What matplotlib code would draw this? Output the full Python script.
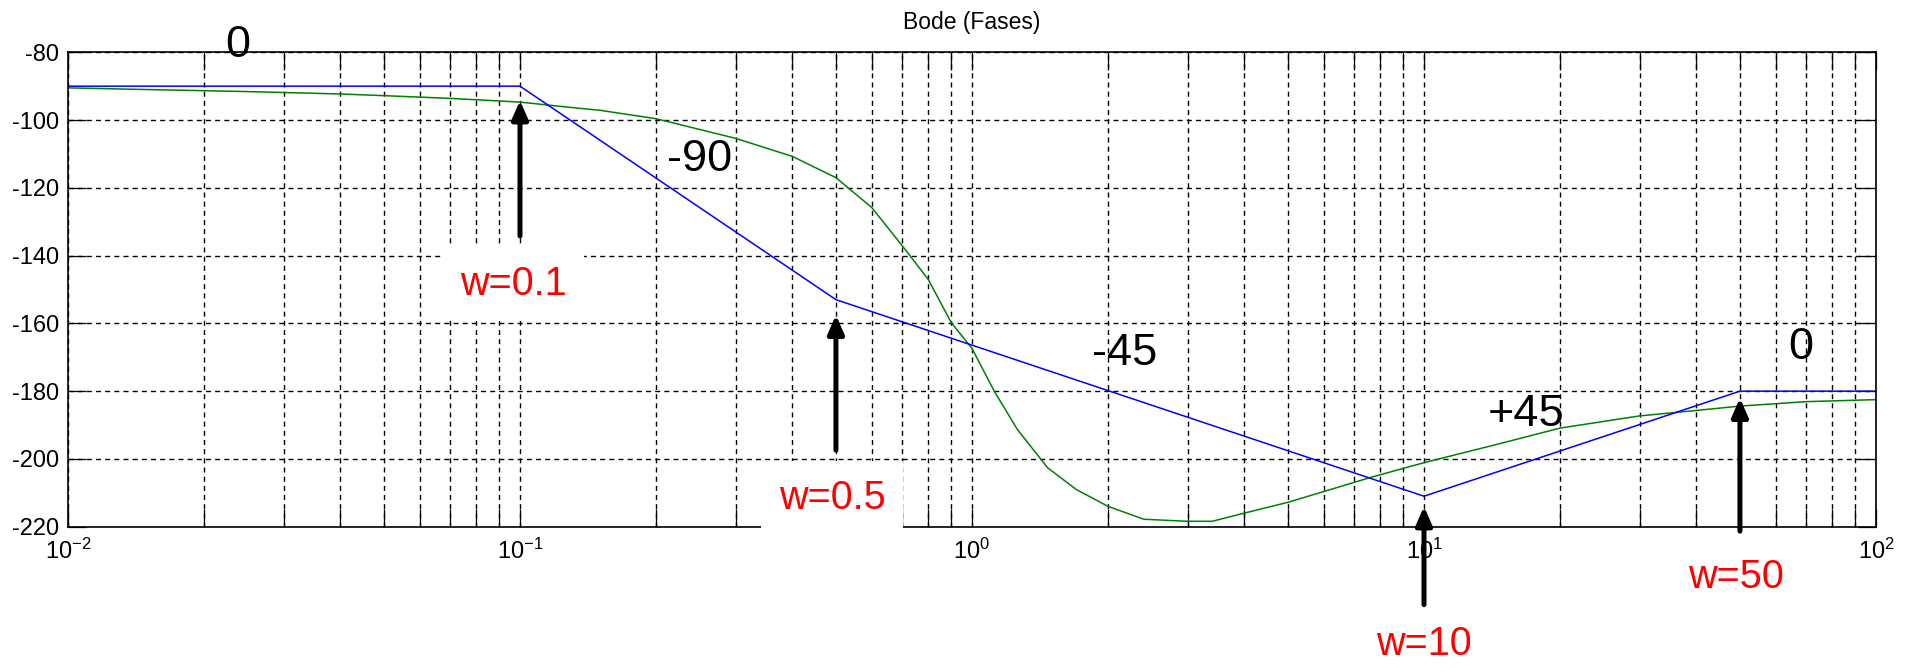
import matplotlib
matplotlib.use("Agg")
import matplotlib.pyplot as plt
from matplotlib.ticker import LogLocator, LogFormatterMathtext, NullFormatter

plt.rcParams['font.family'] = ['Liberation Sans', 'DejaVu Sans']
plt.rcParams['axes.unicode_minus'] = False

# asymptotic (straight-line) phase approximation
asym_w = [0.01, 0.1, 0.5, 10, 50, 100]
asym_phase = [-90, -90, -153, -211, -180, -180]

# real phase curve
real_w = [0.01, 0.015, 0.025, 0.04, 0.05, 0.07, 0.1, 0.13, 0.15, 0.2, 0.3, 0.4,
          0.5, 0.6, 0.7, 0.8, 0.9, 1.0, 1.12, 1.26, 1.47, 1.7, 2.0, 2.4, 3.0,
          3.4, 4.0, 5.0, 7.6, 10, 14.4, 20, 30, 40, 50, 70, 100]
real_phase = [-90.5, -91.0, -91.6, -92.3, -92.8, -93.6, -94.7, -96.3, -97.1, -99.6,
              -105.4, -110.7, -117.0, -125.8, -137.0, -147.0, -159.8, -167.4,
              -180.0, -191.3, -202.6, -209.0, -214.0, -217.8, -218.4, -218.4,
              -216.0, -212.8, -205.5, -201.1, -195.8, -190.9, -187.3, -185.7,
              -184.4, -183.1, -182.5]

# slope labels (deg/decade) along the asymptotes
slope_text = ['0', '-90', '-45', '+45', '0']
slope_w = [0.0238, 0.25, 2.18, 16.8, 68]
slope_y = [-78, -111.5, -168.8, -186.8, -167]

# break frequencies marked with arrows
break_w = [0.1, 0.5, 10, 50]
arrow_tail = [-134.2, -197.4, -243, -221.3]
arrow_tip = [-94.2, -157.5, -214, -182]
label_w = [0.0965, 0.49, 10, 49]
label_y = [-148.3, -211.5, -254.5, -234.8]

fig = plt.figure(figsize=(19.1, 6.72), dpi=100)
ax = fig.add_axes([0.0356, 0.2162, 0.9466, 0.7060])

ax.plot(real_w, real_phase, color=(0, 0.5, 0), lw=1.1, zorder=2)
ax.plot(asym_w, asym_phase, color=(0, 0, 1), lw=1.1, zorder=2.1)

ax.set_xscale('log')
ax.set_xlim(0.01, 100)
ax.set_ylim(-220, -80)
ax.set_yticks(range(-220, -79, 20))
ax.xaxis.set_major_locator(LogLocator(base=10))
ax.xaxis.set_minor_locator(LogLocator(base=10, subs=range(2, 10)))
ax.xaxis.set_major_formatter(LogFormatterMathtext())
ax.xaxis.set_minor_formatter(NullFormatter())

grid_style = dict(color='black', lw=1.0, linestyle=(0, (3.6, 3.0)))
ax.grid(True, which='both', axis='x', **grid_style)
ax.grid(True, which='major', axis='y', **grid_style)
ax.set_axisbelow(True)

ax.tick_params(which='both', direction='in', top=True, right=True,
               length=13, width=0.9, color='black')
ax.tick_params(axis='y', labelsize=17, pad=6.5)
ax.tick_params(axis='x', labelsize=17, pad=8.5)
for sp in ax.spines.values():
    sp.set_linewidth(1.2)

ax.set_title('Bode (Fases)', fontsize=16.5, pad=16.8)

for txt, x, y in zip(slope_text, slope_w, slope_y):
    ax.text(x, y, txt, fontsize=32.5, ha='center', va='center',
            color='black', zorder=4, clip_on=False)

for w, lx, ly in zip(break_w, label_w, label_y):
    ax.text(lx, ly, f'w={w:g}', fontsize=28.5, color='red', ha='center',
            va='center', zorder=4, clip_on=False,
            bbox=dict(boxstyle='square,pad=0.45', facecolor='white',
                      edgecolor='none'))

for w, y0, y1 in zip(break_w, arrow_tail, arrow_tip):
    ax.annotate('', xy=(w, y1), xytext=(w, y0), annotation_clip=False,
                arrowprops=dict(arrowstyle='-|>,head_length=11,head_width=4.8',
                                mutation_scale=1, lw=3.6, color='black',
                                shrinkA=0, shrinkB=0, clip_on=False),
                zorder=5)

fig.savefig('out.png', dpi=100)
